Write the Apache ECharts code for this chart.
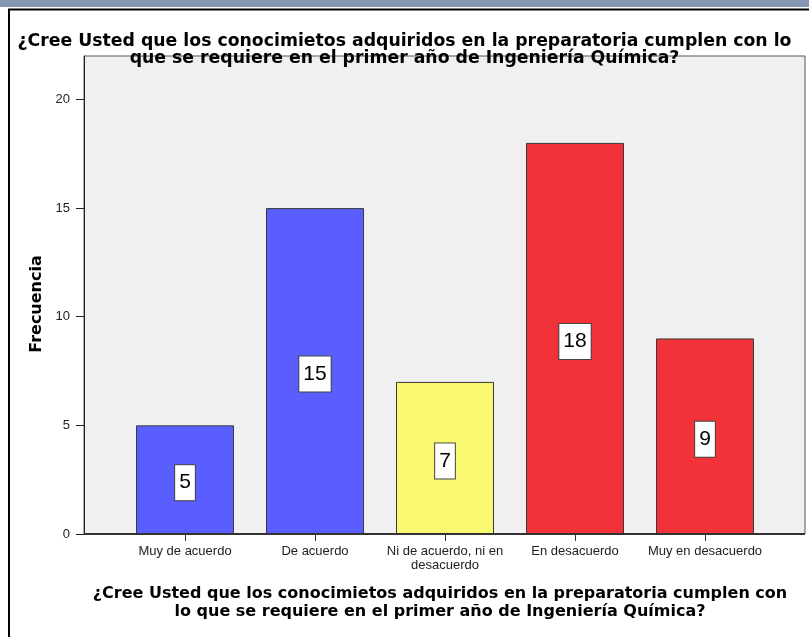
<!DOCTYPE html>
<html>
<head>
<meta charset="utf-8">
<title>Frecuencia</title>
<script src="https://cdn.jsdelivr.net/npm/echarts@6/dist/echarts.min.js"></script>
<style>
html, body { margin: 0; padding: 0; background: #fff; }
#main { width: 809px; height: 637px; }
</style>
</head>
<body>
<div id="main"></div>
<script>
// datos
var categorias = ['Muy de acuerdo', 'De acuerdo', 'Ni de acuerdo, ni en\ndesacuerdo', 'En desacuerdo', 'Muy en desacuerdo'];
var frecuencias = [5, 15, 7, 18, 9];
var colores = ['#5a5eff', '#5a5eff', '#f9f871', '#f13239', '#f13239'];
var ticksY = [0, 5, 10, 15, 20];

var titulo = '¿Cree Usted que los conocimietos adquiridos en la preparatoria cumplen con lo\nque se requiere en el primer año de Ingeniería Química?';
var tituloX = '¿Cree Usted que los conocimietos adquiridos en la preparatoria cumplen con\nlo que se requiere en el primer año de Ingeniería Química?';

var chart = echarts.init(document.getElementById('main'));

var option = {
    backgroundColor: '#fff',
    animation: false,
    textStyle: { fontFamily: 'Liberation Sans, Arial, sans-serif' },
    title: {
        text: titulo,
        left: 'center',
        top: 28,
        padding: [5, 5, 5, 19],
        textStyle: { fontSize: 17.3, fontWeight: 'bold', color: '#000', lineHeight: 17, fontFamily: 'DejaVu Sans, Verdana, sans-serif' }
    },
    graphic: [
        { type: 'rect', shape: { x: 0, y: 0, width: 809, height: 7 }, style: { fill: '#8498b4' }, silent: true },
        { type: 'line', shape: { x1: 8, y1: 9.5, x2: 809, y2: 9.5 }, style: { stroke: '#000', lineWidth: 2 }, silent: true },
        { type: 'line', shape: { x1: 9, y1: 9, x2: 9, y2: 637 }, style: { stroke: '#000', lineWidth: 2 }, silent: true }
    ],
    grid: [
        // marco del area de trazado
        { left: 84, right: 4, top: 56, bottom: 103, show: true, backgroundColor: '#f0f0f0', borderColor: '#555', borderWidth: 1 },
        // barras
        { left: 120, width: 650, top: 56, bottom: 103 }
    ],
    xAxis: [
        { gridIndex: 0, type: 'value', show: false, min: 0, max: 1 },
        {
            gridIndex: 1,
            type: 'category',
            data: categorias,
            name: tituloX,
            nameLocation: 'middle',
            nameGap: 51,
            nameTextStyle: { fontSize: 16, fontWeight: 'bold', color: '#000', lineHeight: 18, padding: [0, 10, 0, 0], fontFamily: 'DejaVu Sans, Verdana, sans-serif' },
            axisLine: { show: false },
            axisTick: { show: true, alignWithLabel: true, length: 7, lineStyle: { color: '#333' } },
            axisLabel: { fontSize: 13, color: '#222', lineHeight: 14, margin: 10, interval: 0 }
        }
    ],
    yAxis: [
        {
            gridIndex: 0,
            type: 'value',
            min: 0,
            max: 22,
            name: 'Frecuencia',
            nameLocation: 'middle',
            nameGap: 38,
            nameTextStyle: { fontSize: 16, fontWeight: 'bold', color: '#000', padding: [0, 18, 0, 0], fontFamily: 'DejaVu Sans, Verdana, sans-serif' },
            axisLine: { show: true, lineStyle: { color: '#222', width: 1 } },
            axisTick: { show: true, length: 8, customValues: ticksY, lineStyle: { color: '#222' } },
            axisLabel: { fontSize: 13, color: '#222', margin: 14, customValues: ticksY },
            splitLine: { show: false }
        },
        { gridIndex: 1, type: 'value', min: 0, max: 22, show: false, splitLine: { show: false } }
    ],
    series: [
        {
            type: 'bar',
            xAxisIndex: 1,
            yAxisIndex: 1,
            barWidth: 98,
            data: frecuencias.map(function (v, i) {
                return { value: v, itemStyle: { color: colores[i] } };
            }),
            itemStyle: { borderColor: '#3a3a3a', borderWidth: 1 },
            label: {
                show: true,
                position: 'inside',
                offset: [0, 3],
                fontSize: 21,
                color: '#000',
                backgroundColor: '#fff',
                borderColor: '#444',
                borderWidth: 1,
                padding: [6, 4, 5, 4],
                lineHeight: 24
            }
        },
        {
            // linea del eje x
            type: 'line',
            xAxisIndex: 0,
            yAxisIndex: 0,
            data: [[0, 0], [1, 0]],
            symbol: 'none',
            silent: true,
            lineStyle: { color: '#333', width: 2 }
        }
    ]
};

chart.setOption(option);
</script>
</body>
</html>
